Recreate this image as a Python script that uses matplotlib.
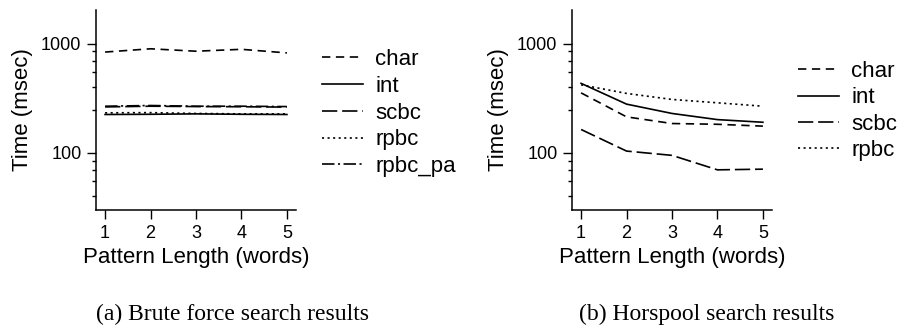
import matplotlib
matplotlib.use("Agg")
import matplotlib.pyplot as plt
from matplotlib.ticker import FixedLocator, NullFormatter

plt.rcParams['font.family'] = ['Liberation Sans', 'DejaVu Sans']
plt.rcParams['lines.scale_dashes'] = False

# pattern length (words)
x = [1, 2, 3, 4, 5]

# brute force search times (msec)
bf_char = [840, 900, 855, 890, 825]
bf_int = [225, 226, 228, 226, 225]
bf_scbc = [264, 268, 266, 265, 263]
bf_rpbc = [233, 234, 230, 228, 228]
bf_rpbc_pa = [268, 272, 268, 268, 266]

# horspool search times (msec)
hp_char = [355, 214, 186, 183, 176]
hp_int = [434, 280, 230, 202, 191]
hp_scbc = [164, 104, 95, 70, 71]
hp_rpbc = [421, 351, 309, 288, 268]

styles = {
    'char': (0, (6, 4)),
    'int': '-',
    'scbc': (0, (11, 3.5)),
    'rpbc': (0, (1.5, 2.5)),
    'rpbc_pa': (0, (9, 2.5, 1.5, 2.5)),
}

W, H = 898, 327
fig = plt.figure(figsize=(W / 100, H / 100), dpi=100)


def make_axes(x0, series, legend_x, legend_top, spacing):
    ax = fig.add_axes([x0 / W, (H - 210) / H, 200 / W, 200 / H])
    for name, vals in series:
        ax.plot(x, vals, color='black', lw=1.2, linestyle=styles[name], label=name)
    ax.set_yscale('log')
    ax.set_ylim(30, 2040)
    ax.set_xlim(0.8, 5.2)
    ax.set_xticks(x)
    ax.yaxis.set_major_locator(FixedLocator([100, 1000]))
    ax.yaxis.set_minor_locator(FixedLocator([40, 55, 70, 85, 250, 400, 550, 700, 850]))
    ax.yaxis.set_minor_formatter(NullFormatter())
    ax.set_yticklabels(['100', '1000'])
    for s in ['top', 'right']:
        ax.spines[s].set_visible(False)
    for s in ['left', 'bottom']:
        ax.spines[s].set_linewidth(1.1)
    ax.tick_params(which='major', length=6.5, width=1.0, labelsize=13, pad=4)
    ax.tick_params(which='minor', length=3, width=1.0)
    ax.set_xlabel('Pattern Length (words)', fontsize=16, labelpad=4)
    ax.set_ylabel('Time (msec)', fontsize=16, labelpad=6)
    ax.legend(loc='upper left', bbox_to_anchor=(legend_x / W, legend_top / H),
              bbox_transform=fig.transFigure, frameon=False, fontsize=16,
              handlelength=1.85, handletextpad=0.55, labelspacing=spacing,
              borderpad=0, borderaxespad=0)
    return ax


make_axes(96, [('char', bf_char), ('int', bf_int), ('scbc', bf_scbc),
               ('rpbc', bf_rpbc), ('rpbc_pa', bf_rpbc_pa)], 322, H - 49, 0.26)
make_axes(572, [('char', hp_char), ('int', hp_int), ('scbc', hp_scbc),
                ('rpbc', hp_rpbc)], 798, H - 61, 0.24)

fig.text(232 / W, 1 - 314 / H, '(a) Brute force search results', ha='center', va='center',
         fontsize=17, family='Liberation Serif')
fig.text(707 / W, 1 - 314 / H, '(b) Horspool search results', ha='center', va='center',
         fontsize=17, family='Liberation Serif')

fig.savefig('out.png', dpi=100)
